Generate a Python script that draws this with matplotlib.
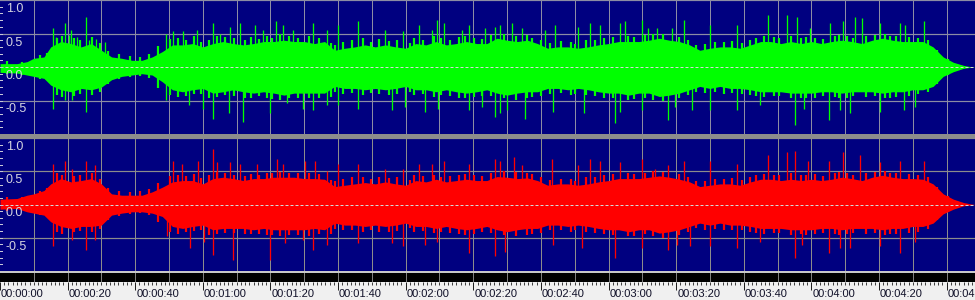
import numpy as np
import matplotlib
matplotlib.use("Agg")
import matplotlib.pyplot as plt
from matplotlib.patches import Rectangle

# time of the envelope samples (seconds)
t_body = [0, 5, 8, 10, 13, 15, 18, 21, 24, 27, 30, 33, 36, 39, 42, 45, 48, 51, 54, 57,
          60, 63, 66, 69, 72, 75, 78, 81, 84, 87, 90, 93,
          96, 99, 102, 105, 108, 111, 114, 117, 120, 123, 126, 129, 132, 135, 138, 141,
          144, 147, 150, 153, 156, 159, 162, 165, 168, 171, 174, 177, 180, 183, 186, 189,
          192, 195, 198, 201, 204, 207, 210, 213, 216, 219, 222, 225, 228, 231, 234, 237,
          240, 243, 246, 249, 252, 255, 258, 261, 264, 267, 270, 273, 276, 279, 282, 285,
          287, 288.4]

# left channel (green) body envelope
left_hi = [.05, .05, .08, .13, .15, .30, .38, .35, .30, .35, .25, .15, .13, .10, .10, .15,
           .23, .33, .33, .35, .30, .35, .38, .35, .33, .35, .38, .38, .40, .38, .38, .35,
           .38, .25, .28, .30, .33, .30, .33, .30, .28, .35, .33, .38, .33, .35, .38, .35,
           .35, .43, .40, .38, .40, .35, .28, .30, .30, .28, .30, .33, .35, .38, .38, .38,
           .40, .43, .40, .38, .33, .25, .28, .30, .30, .28, .33, .38, .38, .35, .38, .35,
           .38, .35, .38, .40, .38, .35, .40, .43, .40, .38, .38, .38, .30, .15, .07, .025,
           .005, 0]
left_lo = [-.08, -.09, -.12, -.14, -.17, -.27, -.34, -.37, -.32, -.34, -.30, -.19, -.14, -.12, -.10, -.12,
           -.22, -.34, -.37, -.34, -.32, -.39, -.37, -.34, -.37, -.39, -.37, -.39, -.42, -.39, -.39, -.39,
           -.39, -.29, -.32, -.32, -.34, -.32, -.34, -.32, -.29, -.34, -.34, -.37, -.34, -.37, -.39, -.37,
           -.34, -.39, -.42, -.39, -.37, -.37, -.32, -.32, -.34, -.32, -.34, -.37, -.39, -.39, -.42, -.39,
           -.39, -.44, -.42, -.39, -.34, -.29, -.32, -.29, -.32, -.32, -.34, -.37, -.37, -.37, -.39, -.39,
           -.39, -.37, -.37, -.39, -.37, -.37, -.37, -.39, -.37, -.37, -.34, -.34, -.29, -.14, -.07, -.02,
           -.005, 0]

# right channel (red) body envelope
right_hi = [.08, .09, .14, .16, .21, .31, .39, .34, .36, .39, .31, .16, .14, .14, .14, .19,
            .26, .34, .36, .36, .31, .39, .41, .39, .36, .39, .39, .41, .41, .41, .39, .39,
            .38, .27, .29, .31, .33, .31, .34, .31, .29, .36, .34, .38, .34, .36, .38, .36,
            .36, .42, .41, .39, .40, .36, .29, .31, .31, .29, .31, .34, .36, .39, .39, .39,
            .41, .43, .41, .38, .34, .27, .29, .31, .31, .29, .34, .38, .38, .36, .38, .36,
            .38, .36, .38, .41, .39, .36, .41, .44, .41, .39, .39, .38, .31, .16, .08, .03,
            .01, 0]
right_lo = [-.07, -.06, -.11, -.13, -.16, -.26, -.33, -.36, -.33, -.33, -.31, -.16, -.13, -.11, -.11, -.13,
            -.18, -.33, -.36, -.33, -.31, -.38, -.36, -.36, -.36, -.38, -.36, -.38, -.38, -.38, -.38, -.36,
            -.38, -.28, -.31, -.31, -.33, -.31, -.33, -.31, -.28, -.33, -.33, -.36, -.33, -.36, -.38, -.36,
            -.33, -.38, -.41, -.38, -.36, -.36, -.31, -.31, -.33, -.31, -.33, -.36, -.38, -.38, -.41, -.38,
            -.38, -.43, -.41, -.38, -.33, -.28, -.31, -.28, -.31, -.31, -.33, -.36, -.36, -.36, -.38, -.38,
            -.38, -.36, -.36, -.38, -.36, -.36, -.36, -.38, -.36, -.36, -.33, -.33, -.28, -.14, -.07, -.02,
            -.01, 0]

# ragged edge of the body (seconds; top and bottom per channel)
t_mid = [2.2, 6.5, 11.8, 13.9,
         16.9, 18.4, 22.0, 23.6, 27.2, 29.6, 32.0,
         35.1, 38.6, 41.3, 44.2, 46.8,
         50.2, 52.6, 55.1, 57.3, 59.4, 61.8, 64.3, 66.7, 69.2, 72.6,
         74.1, 76.7, 79.0, 80.6, 82.8, 85.4, 88.1, 91.3, 94.5, 97.9,
         99.2, 101.6, 104.1, 107.4, 109.8, 112.1, 115.0, 117.3, 121.2, 122.6,
         125.1, 128.3, 130.4, 133.2, 135.7, 137.5, 140.2, 142.6, 145.2, 149.1,
         152.6, 155.8, 157.4, 159.9, 162.7, 166.0, 168.8, 170.2, 173.4, 176.1,
         178.8, 181.2, 185.9, 187.6, 190.7, 193.1, 196.2, 200.9, 203.5, 205.8,
         208.4, 211.5, 214.2, 216.4, 219.4, 221.8, 223.6, 226.1, 228.9, 230.5,
         233.9, 236.8, 238.4, 241.0, 243.3, 246.9, 248.1, 250.6, 252.2, 256.3,
         258.7, 261.9, 263.4, 265.1, 268.9, 271.5, 274.4, 277.2, 280.4, 283.1]
left_mid_hi = [.09, .08, .18, .21,
               .44, .47, .43, .40, .45, .36, .24,
               .19, .16, .15, .20, .31,
               .42, .44, .40, .46, .38, .41, .47, .45, .43, .40,
               .45, .42, .47, .44, .49, .46, .44, .47, .43, .36,
               .33, .38, .40, .43, .37, .42, .39, .41, .36, .44,
               .41, .46, .43, .40, .45, .47, .43, .42, .48, .50,
               .46, .48, .44, .40, .36, .39, .37, .35, .40, .41,
               .44, .45, .47, .45, .48, .50, .49, .45, .40, .33,
               .35, .38, .37, .39, .36, .41, .44, .46, .45, .43,
               .46, .43, .45, .44, .42, .46, .48, .46, .44, .46,
               .48, .50, .47, .46, .45, .44, .40, .26, .12, .05]
left_mid_lo = [-.11, -.12, -.18, -.20,
               -.42, -.45, -.43, -.41, -.42, -.37, -.26,
               -.18, -.15, -.13, -.17, -.31,
               -.42, -.45, -.43, -.41, -.40, -.47, -.45, -.42, -.44, -.46,
               -.47, -.44, -.46, -.48, -.49, -.47, -.46, -.47, -.46, -.45,
               -.37, -.40, -.39, -.42, -.39, -.41, -.42, -.40, -.37, -.42,
               -.41, -.45, -.42, -.44, -.46, -.47, -.45, -.43, -.44, -.47,
               -.49, -.46, -.45, -.44, -.40, -.39, -.42, -.40, -.42, -.44,
               -.46, -.47, -.49, -.48, -.46, -.49, -.51, -.47, -.42, -.37,
               -.39, -.37, -.40, -.39, -.40, -.42, -.44, -.45, -.44, -.44,
               -.47, -.46, -.47, -.46, -.44, -.45, -.47, -.46, -.44, -.45,
               -.44, -.47, -.46, -.45, -.43, -.41, -.38, -.25, -.12, -.05]
right_mid_hi = [.12, .11, .21, .25,
                .47, .45, .43, .44, .47, .38, .25,
                .20, .19, .20, .24, .33,
                .43, .45, .43, .46, .40, .44, .49, .47, .45, .43,
                .46, .44, .47, .48, .49, .48, .47, .48, .46, .37,
                .35, .39, .41, .42, .38, .42, .40, .41, .37, .44,
                .43, .45, .42, .43, .44, .46, .44, .43, .47, .50,
                .49, .47, .46, .42, .37, .39, .38, .36, .41, .42,
                .45, .46, .47, .46, .48, .50, .49, .46, .42, .35,
                .36, .38, .39, .40, .37, .42, .44, .46, .45, .44,
                .47, .45, .45, .46, .43, .47, .49, .47, .45, .47,
                .49, .51, .48, .47, .46, .45, .41, .27, .13, .05]
right_mid_lo = [-.10, -.09, -.16, -.19,
                -.41, -.44, -.42, -.40, -.41, -.37, -.24,
                -.17, -.14, -.13, -.16, -.27,
                -.41, -.44, -.42, -.40, -.39, -.46, -.44, -.43, -.43, -.44,
                -.45, -.44, -.46, -.46, -.47, -.46, -.46, -.47, -.45, -.44,
                -.37, -.39, -.39, -.41, -.38, -.41, -.41, -.40, -.36, -.41,
                -.40, -.43, -.41, -.43, -.45, -.46, -.44, -.42, -.43, -.46,
                -.48, -.46, -.44, -.43, -.39, -.38, -.41, -.39, -.41, -.43,
                -.45, -.46, -.48, -.47, -.45, -.48, -.50, -.46, -.41, -.36,
                -.38, -.37, -.39, -.38, -.39, -.41, -.43, -.44, -.43, -.43,
                -.46, -.45, -.46, -.45, -.43, -.44, -.46, -.45, -.43, -.44,
                -.43, -.46, -.45, -.44, -.43, -.41, -.37, -.24, -.12, -.05]

# isolated peaks (seconds, amplitude)
left_peak_t = [15.8, 16.5, 19.2, 20.3, 21.0, 22.7, 25.4, 26.3, 28.5, 31.2, 49.1, 51.3, 54.0, 58.4,
               63.1, 65.1, 68.0, 71.0, 75.4, 77.9, 81.7, 83.8, 86.8, 92.7,
               96.6, 100.1, 106.0, 113.9, 119.3, 124.0, 127.7, 129.2, 131.2, 136.6, 138.6, 143.5,
               146.4, 147.9, 151.4, 154.3, 161.2, 164.2, 171.1, 174.6, 177.5, 183.4, 184.9, 189.8,
               191.8, 194.3, 198.7, 202.2, 210.1, 217.9, 227.3, 232.7, 235.7, 239.6, 245.6, 249.5,
               253.0, 254.9, 260.3, 266.3, 267.7, 273.2]
left_peak_a = [.58, .45, .65, .48, .55, .45, .75, .40, .42, .38, .50, .53, .53, .55,
               .65, .50, .60, .65, .63, .55, .68, .63, .55, .65,
               .55, .63, .68, .55, .53, .63, .55, .70, .65, .55, .63, .58,
               .60, .63, .65, .58, .55, .63, .60, .65, .63, .65, .68, .70,
               .58, .58, .58, .70, .63, .63, .78, .78, .75, .58, .65, .68,
               .75, .73, .65, .65, .63, .68]
left_dip_t = [15.8, 19.2, 21.2, 25.3, 49.0, 56.0, 60.0, 63.1, 67.6, 72.0, 79.9, 84.8, 89.7, 92.7,
              96.6, 100.1, 106.0, 115.9, 119.8, 125.7, 129.7, 138.6, 142.5, 146.4, 147.9, 149.9,
              155.3, 163.7, 172.6, 182.0, 183.4, 189.8,
              197.7, 199.7, 204.6, 210.1, 217.9, 224.8, 235.2, 237.7, 245.1, 248.5, 251.5, 260.3,
              267.3, 270.7]
left_dip_a = [-.62, -.49, -.49, -.67, -.49, -.57, -.62, -.77, -.69, -.82, -.69, -.54, -.62, -.64,
              -.57, -.57, -.62, -.64, -.59, -.67, -.62, -.64, -.59, -.74, -.69, -.64,
              -.77, -.67, -.69, -.84, -.67, -.64,
              -.79, -.59, -.64, -.64, -.64, -.57, -.87, -.62, -.79, -.64, -.69, -.67,
              -.64, -.59]

right_peak_t = [15.8, 19.2, 21.2, 25.4, 28.1, 51.3, 53.7, 58.7, 63.1, 64.1, 68.0, 71.0, 75.9,
                81.9, 83.8, 90.2, 93.2,
                96.6, 100.1, 106.0, 113.9, 119.3, 124.0, 127.7, 131.2, 138.6, 146.4, 147.9, 151.9,
                154.3, 163.2, 171.1, 174.6, 177.5, 183.4, 189.8,
                193.8, 197.7, 202.2, 210.1, 217.9, 227.3, 232.7, 235.2, 239.1, 245.1, 249.5, 254.4,
                260.3, 266.3, 273.2]
right_peak_a = [.61, .66, .54, .66, .59, .66, .61, .66, .84, .64, .64, .61, .61,
                .69, .61, .66, .66,
                .51, .61, .61, .54, .54, .61, .61, .66, .61, .69, .66, .71,
                .59, .69, .59, .69, .66, .64, .69,
                .54, .59, .66, .66, .61, .74, .79, .81, .66, .66, .79, .74,
                .64, .66, .66]
right_dip_t = [15.8, 21.2, 25.4, 28.1, 49.3, 56.2, 60.2, 63.1, 69.0, 79.9, 84.3, 89.7, 92.7,
               96.6, 106.0, 115.9, 119.3, 125.7, 129.2, 138.6, 146.4, 149.4, 163.7, 172.1, 182.0,
               189.8,
               197.7, 200.2, 204.1, 210.1, 217.9, 224.8, 235.2, 237.2, 245.1, 248.5, 251.5, 260.3,
               266.3, 270.7]
right_dip_a = [-.63, -.53, -.68, -.53, -.48, -.66, -.56, -.76, -.83, -.83, -.58, -.53, -.68,
               -.61, -.58, -.58, -.63, -.61, -.56, -.73, -.78, -.71, -.61, -.66, -.81,
               -.66,
               -.68, -.61, -.63, -.63, -.66, -.56, -.81, -.61, -.73, -.66, -.66, -.63,
               -.73, -.56]

amp_ticks = [1.0, 0.5, 0.0, -0.5]
amp_labels = ["1.0", "0.5", "0.0", "-0.5"]
time_ticks = [0, 20, 40, 60, 80, 100, 120, 140, 160, 180, 200, 220, 240, 260, 280]
time_labels = ["00:00:00", "00:00:20", "00:00:40", "00:01:00", "00:01:20", "00:01:40",
               "00:02:00", "00:02:20", "00:02:40", "00:03:00", "00:03:20", "00:03:40",
               "00:04:00", "00:04:20", "00:04:40"]

T_END = 288.4
W, H = 975, 300
NAVY = "#000080"
PX = 72 / 100  # one pixel in points


def px_axes(fig, top, bottom):
    return fig.add_axes([0, 1 - bottom / H, 1, (bottom - top) / H])


def channel(ax, hi, lo, mid_hi, mid_lo, peak_t, peak_a, dip_t, dip_a, color, grid_color):
    ax.set_facecolor(NAVY)
    ax.set_xlim(0, T_END)
    ax.set_ylim(-1, 1)
    for s in ax.spines.values():
        s.set_visible(False)
    ax.set_xticks([])
    ax.set_yticks([])
    for g in range(10, 290, 10):
        ax.axvline(g, color=grid_color, lw=PX, zorder=1)
    for v in (1.0, 0.5, -0.5):
        ax.axhline(v, color=grid_color, lw=PX * 1.2, zorder=1)
    ax.fill_between(t_body, lo, hi, color=color, lw=0, zorder=2)
    ax.vlines(t_mid, mid_lo, mid_hi, color=color, lw=PX * 2.2, zorder=2)
    ax.vlines(peak_t, 0, peak_a, color=color, lw=PX * 1.3, zorder=2)
    ax.vlines(dip_t, 0, dip_a, color=color, lw=PX * 1.3, zorder=2)
    ax.plot([0, T_END], [0, 0], color="#d8d8d8", lw=PX, ls=(0, (3, 2)), zorder=3)
    # small level ticks on the left edge
    for v in np.arange(-0.9, 1.0, 0.1):
        ax.plot([0, 0.6], [v, v], color="#c8c8d8", lw=PX, zorder=3)
    for v, lbl in zip(amp_ticks, amp_labels):
        ax.annotate(lbl, xy=(0, v), xycoords=("axes fraction", "data"),
                    xytext=(6 * PX, -12 * PX), textcoords="offset points",
                    va="baseline", ha="left", fontsize=9, family="Liberation Sans",
                    color="#d4d4e0", zorder=4)


fig = plt.figure(figsize=(W / 100, H / 100), dpi=100, facecolor="#f0f0f0")

ax_l = px_axes(fig, 0, 134)
channel(ax_l, left_hi, left_lo, left_mid_hi, left_mid_lo,
        left_peak_t, left_peak_a, left_dip_t, left_dip_a, "#00ff00", "#8c8ca4")

fig.add_artist(Rectangle((0, 1 - 138 / H), 1, 4 / H, transform=fig.transFigure,
                         color="#8c8c8c", lw=0))

ax_r = px_axes(fig, 138, 271)
channel(ax_r, right_hi, right_lo, right_mid_hi, right_mid_lo,
        right_peak_t, right_peak_a, right_dip_t, right_dip_a, "#ff0000", "#8c8c8c")

fig.add_artist(Rectangle((0, 1 - 273 / H), 1, 2 / H, transform=fig.transFigure,
                         color="#c8c8c8", lw=0))

# black strip under the wave
ax_b = px_axes(fig, 273, 282)
ax_b.set_facecolor("black")
ax_b.set_xlim(0, T_END)
ax_b.set_xticks([])
ax_b.set_yticks([])
for s in ax_b.spines.values():
    s.set_visible(False)
for g in range(10, 290, 10):
    ax_b.axvline(g, color="#808080", lw=PX)

# time ruler
ax_t = px_axes(fig, 282, 300)
ax_t.set_facecolor("#f0f0f0")
ax_t.set_xlim(0, T_END)
ax_t.set_ylim(0, 1)
for s in ax_t.spines.values():
    s.set_visible(False)
ax_t.set_yticks([])
ax_t.xaxis.set_ticks_position("top")
ax_t.set_xticks(time_ticks)
ax_t.set_xticklabels([])
ax_t.set_xticks(np.arange(0, T_END, 1.25), minor=True)
ax_t.tick_params(axis="x", which="major", direction="in", length=6, width=PX, color="#202020")
ax_t.tick_params(axis="x", which="minor", direction="in", length=2, width=PX, color="#404040")
for t, lbl in zip(time_ticks, time_labels):
    ax_t.text(t + 0.3, 0.18, lbl, ha="left", va="baseline", fontsize=8,
              family="Liberation Sans", color="#101028")

fig.savefig("out.png", dpi=100, facecolor=fig.get_facecolor())
